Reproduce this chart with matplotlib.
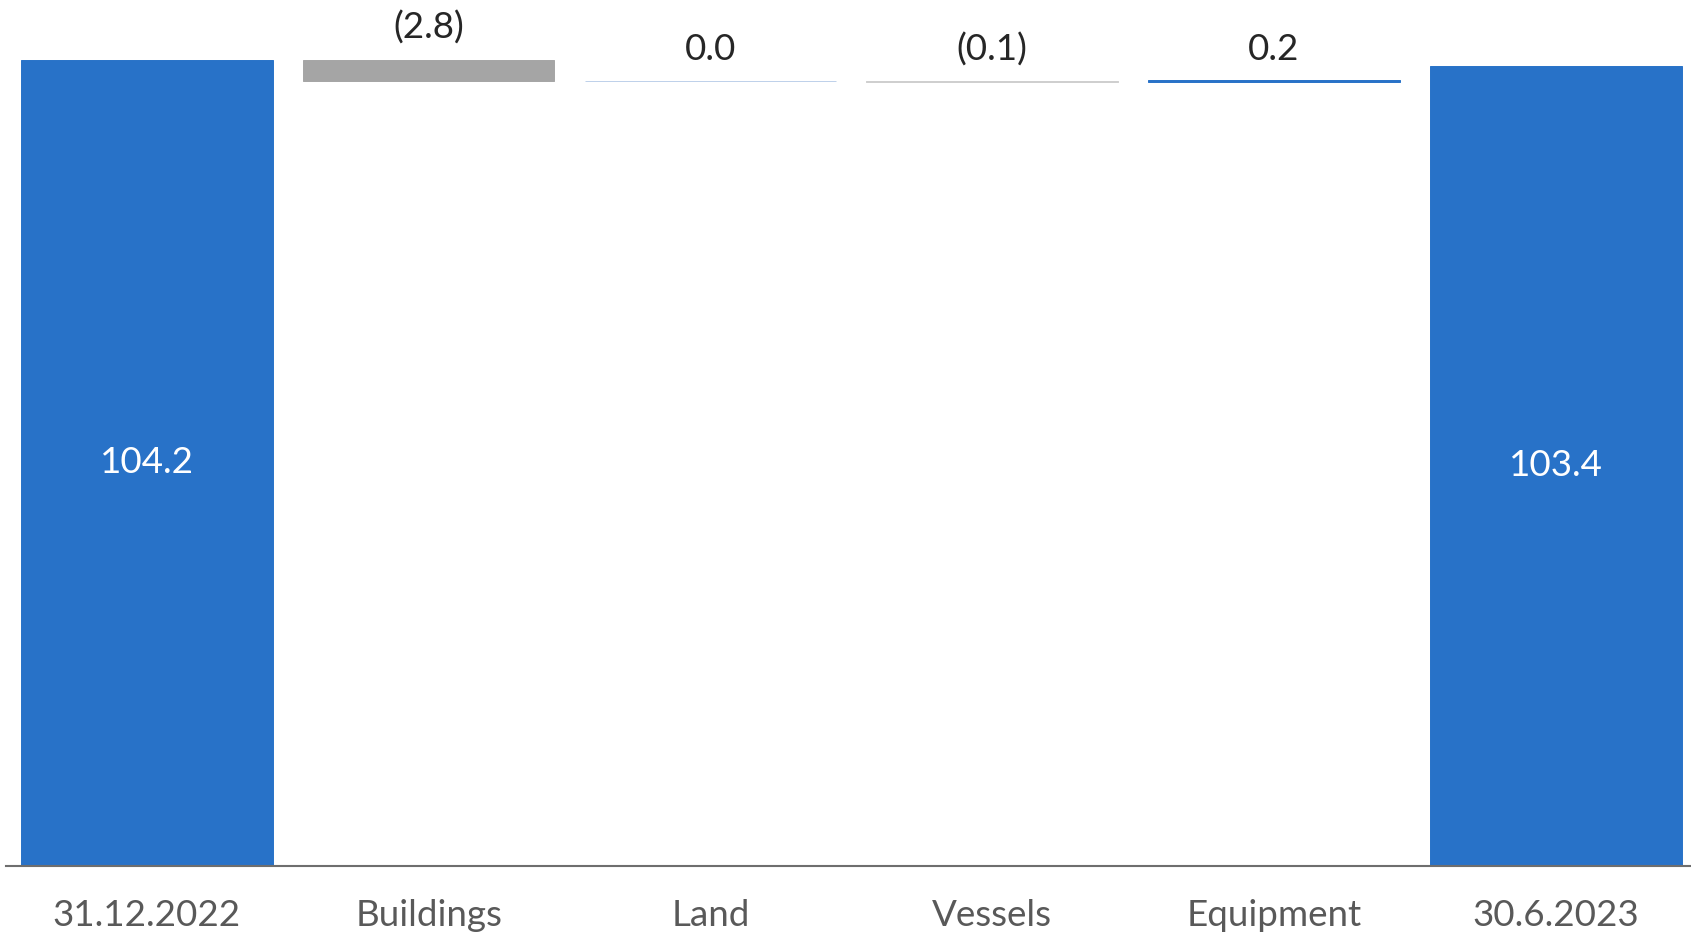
import matplotlib
matplotlib.use("Agg")
import matplotlib.pyplot as plt

categories = ["31.12.2022", "Buildings", "Land", "Vessels", "Equipment", "30.6.2023"]
start_value = 104.2
changes = [-2.8, 0.0, -0.1, 0.2]
end_value = 103.4
labels = ["104.2", "(2.8)", "0.0", "(0.1)", "0.2", "103.4"]

BLUE = "#2872C8"
GRAY = "#A5A5A5"
FONT = "Lato"
FS = 26.5

fig = plt.figure(figsize=(16.91, 9.33), dpi=100)
ax = fig.add_axes([6 / 1691, 67 / 933, 1 - 6 / 1691, 1 - 67 / 933])

# compute waterfall geometry
bottoms, heights, faces, edges = [], [], [], []
bottoms.append(0); heights.append(start_value); faces.append(BLUE); edges.append(BLUE)
level = start_value
for c in changes:
    new = level + c
    bottoms.append(min(level, new))
    heights.append(abs(c))
    if c > 0:
        faces.append(BLUE); edges.append(BLUE)
    elif c < 0:
        faces.append(GRAY); edges.append("#CFCFCF" if abs(c) < 0.5 else GRAY)
    else:
        faces.append("#BDD0EA"); edges.append("#BDD0EA")
    level = new
bottoms.append(0); heights.append(end_value); faces.append(BLUE); edges.append(BLUE)

x = list(range(len(categories)))
ax.bar(x, heights, bottom=bottoms, width=0.893, color=faces, edgecolor=edges,
       linewidth=0.7)

for i, (b, h, lab) in enumerate(zip(bottoms, heights, labels)):
    if i in (0, len(categories) - 1):
        ax.text(i, b + h / 2, lab, ha="center", va="center", color="white",
                fontsize=FS, family=FONT)
    else:
        ax.annotate(lab, (i, b + h), xytext=(0, 15), textcoords="offset points",
                    ha="center", va="baseline", color="#262626", fontsize=FS,
                    family=FONT)

ax.set_xlim(-0.5, 5.48)
ax.set_ylim(0, 111.9)
ax.set_xticks(x)
ax.set_xticklabels(categories, fontsize=FS, color="#595959", family=FONT)
ax.tick_params(axis="x", length=0, pad=24)
ax.set_yticks([])
for s in ["top", "right", "left"]:
    ax.spines[s].set_visible(False)
ax.spines["bottom"].set_color("#6E6E6E")
ax.spines["bottom"].set_linewidth(1.5)
ax.patch.set_alpha(0)

fig.savefig("out.png", dpi=100)
